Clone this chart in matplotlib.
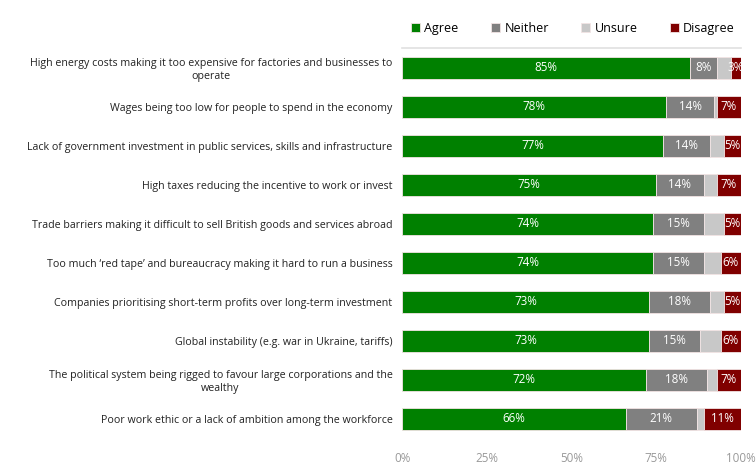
import numpy as np
import matplotlib.pyplot as plt

plt.rcParams['font.family'] = ['Open Sans', 'DejaVu Sans']

# Survey responses, top row first
statements = [
    "High energy costs making it too expensive for factories and businesses to\noperate",
    "Wages being too low for people to spend in the economy",
    "Lack of government investment in public services, skills and infrastructure",
    "High taxes reducing the incentive to work or invest",
    "Trade barriers making it difficult to sell British goods and services abroad",
    "Too much \u2018red tape\u2019 and bureaucracy making it hard to run a business",
    "Companies prioritising short-term profits over long-term investment",
    "Global instability (e.g. war in Ukraine, tariffs)",
    "The political system being rigged to favour large corporations and the\nwealthy",
    "Poor work ethic or a lack of ambition among the workforce",
]
agree = [85, 78, 77, 75, 74, 74, 73, 73, 72, 66]
neither = [8, 14, 14, 14, 15, 15, 18, 15, 18, 21]
unsure = [4, 1, 4, 4, 6, 5, 4, 6, 3, 2]
disagree = [3, 7, 5, 7, 5, 6, 5, 6, 7, 11]

series = [
    ("Agree", agree, "#008000", True),
    ("Neither", neither, "#808080", True),
    ("Unsure", unsure, "#c8c8c8", False),
    ("Disagree", disagree, "#800000", True),
]

fig = plt.figure(figsize=(7.56, 4.74), dpi=100)
ax = fig.add_axes([0.532, 0.075, 0.448, 0.823])

y = np.arange(len(statements))
left = np.zeros(len(statements))
handles = []
for name, vals, color, labelled in series:
    vals = np.array(vals, dtype=float)
    bars = ax.barh(y, vals, left=left, height=0.56, color=color,
                   edgecolor="#f2e4e4", linewidth=0.6, label=name)
    handles.append(bars)
    if labelled:
        for yi, l, v in zip(y, left, vals):
            ax.text(l + v / 2, yi, f"{int(v)}%", ha="center", va="center",
                    color="white", fontsize=8.4)
    left += vals

ax.set_xlim(0, 100)
ax.set_ylim(len(statements) - 0.5, -0.5)
ax.set_yticks(y)
ax.set_yticklabels(statements, fontsize=7.65, color="#222222",
                   multialignment="center")
ax.tick_params(axis="y", length=0, pad=7)
ax.set_xticks([0, 25, 50, 75, 100])
ax.set_xticklabels(["0%", "25%", "50%", "75%", "100%"])
ax.tick_params(axis="x", length=0, colors="#999999", labelsize=8.4, pad=10)

for side in ["right", "left", "bottom"]:
    ax.spines[side].set_visible(False)
ax.spines["top"].set_color("#e0e0e0")
ax.spines["top"].set_linewidth(1.2)

fig.legend(handles=handles, loc="center", bbox_to_anchor=(0.758, 0.94),
           ncol=4, frameon=False, fontsize=9, handlelength=0.7,
           handleheight=0.7, columnspacing=2.6, handletextpad=0.35)

fig.savefig("out.png", dpi=100)
